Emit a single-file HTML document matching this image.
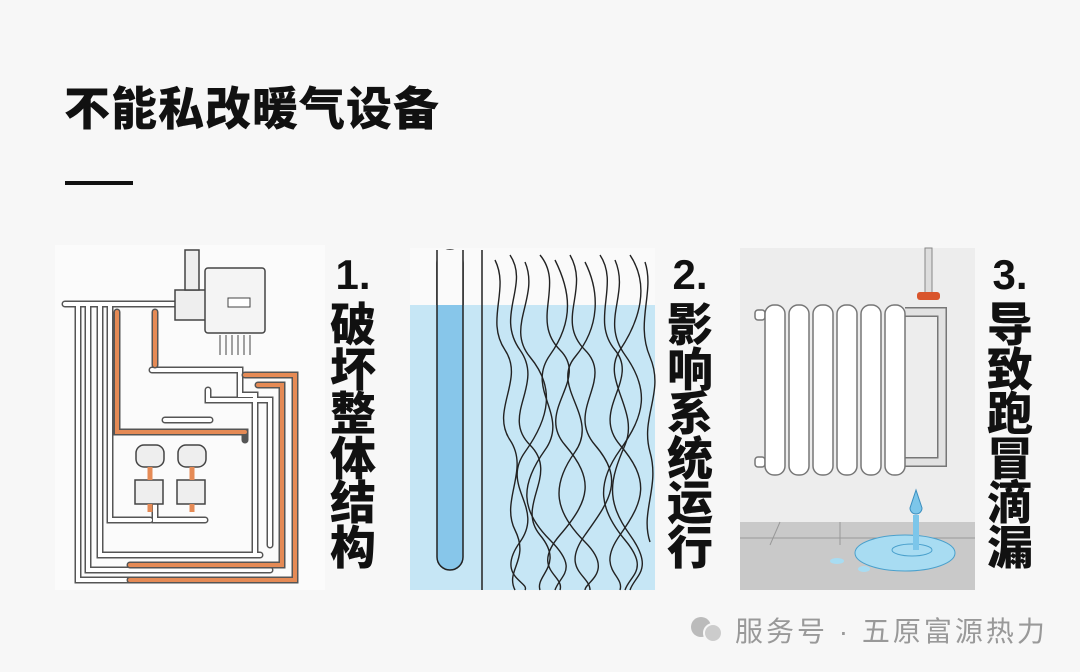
<!DOCTYPE html>
<html><head><meta charset="utf-8"><style>
html,body{margin:0;padding:0}
body{width:1080px;height:672px;background:#f7f7f7;position:relative;overflow:hidden;font-family:"Liberation Sans","Noto Sans CJK SC",sans-serif}
.t{position:absolute;left:64px;top:73px;font-size:46px;font-weight:900;color:#111;letter-spacing:1px}
.bar{position:absolute;left:65px;top:181px;width:68px;height:4px;background:#111}
.v{position:absolute;width:52px;text-align:center;font-size:46px;font-weight:900;color:#111;line-height:44.5px}
.v .n{font-family:"Liberation Sans",sans-serif;font-size:42px;display:block;margin-bottom:8px;line-height:40px}
.f{position:absolute;left:735px;top:610px;font-size:28px;color:#999;letter-spacing:3px}
</style></head><body>
<div class="t">不能私改暖气设备</div>
<div class="bar"></div>

<svg width="1080" height="672" style="position:absolute;left:0;top:0">
<!-- panel 1 -->
<rect x="55" y="245" width="270" height="345" fill="#fbfbfb"/>
<g fill="none" stroke-linecap="round">
<g stroke="#555" stroke-width="7"><path d="M65 304H175M78 304V580H290M88 304V570H270M100 304V555H260M110 304V520H150M152 370H240V395H255V555M208 390V400H270V545M165 420H210M155 485V520H205"/></g>
<g stroke="#fff" stroke-width="4"><path d="M65 304H175M78 304V580H290M88 304V570H270M100 304V555H260M110 304V520H150M152 370H240V395H255V555M208 390V400H270V545M165 420H210M155 485V520H205"/></g>
<g stroke="#555" stroke-width="7"><path d="M117 312V432H245V440M155 312V365M245 375H295V580H130M258 385H282V565H130"/></g>
<g stroke="#e58a55" stroke-width="4"><path d="M117 312V432H245M155 312V365M245 375H295V580H130M258 385H282V565H130"/></g>
</g>
<rect x="175" y="290" width="35" height="30" fill="#eee" stroke="#444" stroke-width="1.5"/>
<rect x="185" y="250" width="14" height="40" fill="#eee" stroke="#444" stroke-width="1.5"/>
<rect x="205" y="268" width="60" height="65" rx="3" fill="#f4f4f4" stroke="#444" stroke-width="1.5"/>
<rect x="228" y="298" width="22" height="9" fill="#fff" stroke="#444"/>
<g stroke="#444" stroke-width="1"><path d="M220 335v20M226 335v20M232 335v20M238 335v20M244 335v20M250 335v20"/></g>
<g fill="#eee" stroke="#444" stroke-width="1.5">
<rect x="136" y="445" width="28" height="22" rx="8"/><rect x="178" y="445" width="28" height="22" rx="8"/>
<rect x="135" y="480" width="28" height="24"/><rect x="177" y="480" width="28" height="24"/>
</g>
<g stroke="#e58a55" stroke-width="5"><path d="M150 467V480M192 467V480M150 504V512M192 504V512"/></g>
<!-- panel 2 -->
<rect x="410" y="248" width="245" height="57" fill="#fafafa"/>
<rect x="410" y="305" width="245" height="285" fill="#c6e6f5"/>
<rect x="437" y="250" width="26" height="320" rx="13" fill="#87c6ea" stroke="#222" stroke-width="1.5"/>
<rect x="437" y="250" width="26" height="55" fill="#fafafa"/>
<path d="M437 250V305M463 250V305" stroke="#222" stroke-width="1.5"/>
<path d="M482 250V590" stroke="#222" stroke-width="1.5"/>
<g fill="none" stroke="#222" stroke-width="1.4">
<path d="M495 260c15 30-10 60 10 90s-15 60 5 90s-10 60 5 90s-10 40 0 60"/>
<path d="M510 255c20 30-15 60 10 95s-20 65 10 95s-15 60 10 90s-5 40 0 55"/>
<path d="M525 262c15 35-20 65 5 95s20 60-5 95s20 55-5 90s10 40 5 48"/>
<path d="M540 255c25 30-10 65 20 95s-25 60 5 95s25 55-5 90s5 40 0 55"/>
<path d="M555 260c15 30 20 60-5 95s20 60-5 95s-25 60 5 90s10 35 5 50"/>
<path d="M570 255c20 35-15 65 15 95s-20 60 10 95s15 55-10 90s5 40 5 55"/>
<path d="M585 262c15 30 15 65-10 95s25 60 0 95s-20 60 10 90s0 40 0 48"/>
<path d="M600 255c20 30-10 65 15 95s-25 60 5 95s25 55 0 90s5 40 0 55"/>
<path d="M615 260c15 35-15 60 10 95s20 60-5 95s-20 60 5 90s5 35 0 50"/>
<path d="M630 255c20 30 10 65-10 95s20 60 5 95s-20 55 5 90s5 40 0 55"/>
<path d="M645 262c10 30-10 60 5 95s-10 60 0 95s-10 60 0 90"/>
</g>
<!-- panel 3 -->
<rect x="740" y="248" width="235" height="342" fill="#ededed"/>
<rect x="740" y="522" width="235" height="68" fill="#c9c9c9"/>
<path d="M740 538H975M780 522L770 545M840 522V545" stroke="#999" stroke-width="1"/>
<rect x="925" y="248" width="7" height="45" fill="#ddd" stroke="#888"/>
<rect x="917" y="292" width="23" height="8" rx="3" fill="#d9552c"/>
<path d="M905 312H942V462H905" fill="none" stroke="#777" stroke-width="10"/>
<path d="M905 312H942V462H905" fill="none" stroke="#e2e2e2" stroke-width="7"/>
<g fill="#fff" stroke="#777" stroke-width="1.5">
<rect x="755" y="310" width="10" height="10" rx="3"/><rect x="755" y="457" width="10" height="10" rx="3"/>
<rect x="765" y="305" width="20" height="170" rx="9"/><rect x="789" y="305" width="20" height="170" rx="9"/>
<rect x="813" y="305" width="20" height="170" rx="9"/><rect x="837" y="305" width="20" height="170" rx="9"/>
<rect x="861" y="305" width="20" height="170" rx="9"/><rect x="885" y="305" width="20" height="170" rx="9"/>
</g>
<ellipse cx="905" cy="553" rx="50" ry="18" fill="#a8dcf2" stroke="#4aa0cc"/>
<ellipse cx="912" cy="550" rx="20" ry="6" fill="none" stroke="#4aa0cc"/>
<path d="M916 490L910 508A6 6 0 0 0 922 508Z" fill="#7cc6ea" stroke="#3c8fbf"/>
<rect x="913" y="515" width="6" height="35" fill="#7cc6ea"/>
<ellipse cx="837" cy="561" rx="7" ry="3" fill="#a8dcf2"/><ellipse cx="864" cy="569" rx="6" ry="3" fill="#a8dcf2"/>
<!-- wechat icon -->
<circle cx="701" cy="627" r="10" fill="#bbb"/><circle cx="713" cy="633" r="9" fill="#ccc" stroke="#f7f7f7" stroke-width="2"/>
</svg>

<div class="v" style="left:327px;top:255px"><span class="n">1.</span>破坏整体结构</div>
<div class="v" style="left:664px;top:255px"><span class="n">2.</span>影响系统运行</div>
<div class="v" style="left:984px;top:255px"><span class="n">3.</span>导致跑冒滴漏</div>
<div class="f">服务号 · 五原富源热力</div>
</body></html>
